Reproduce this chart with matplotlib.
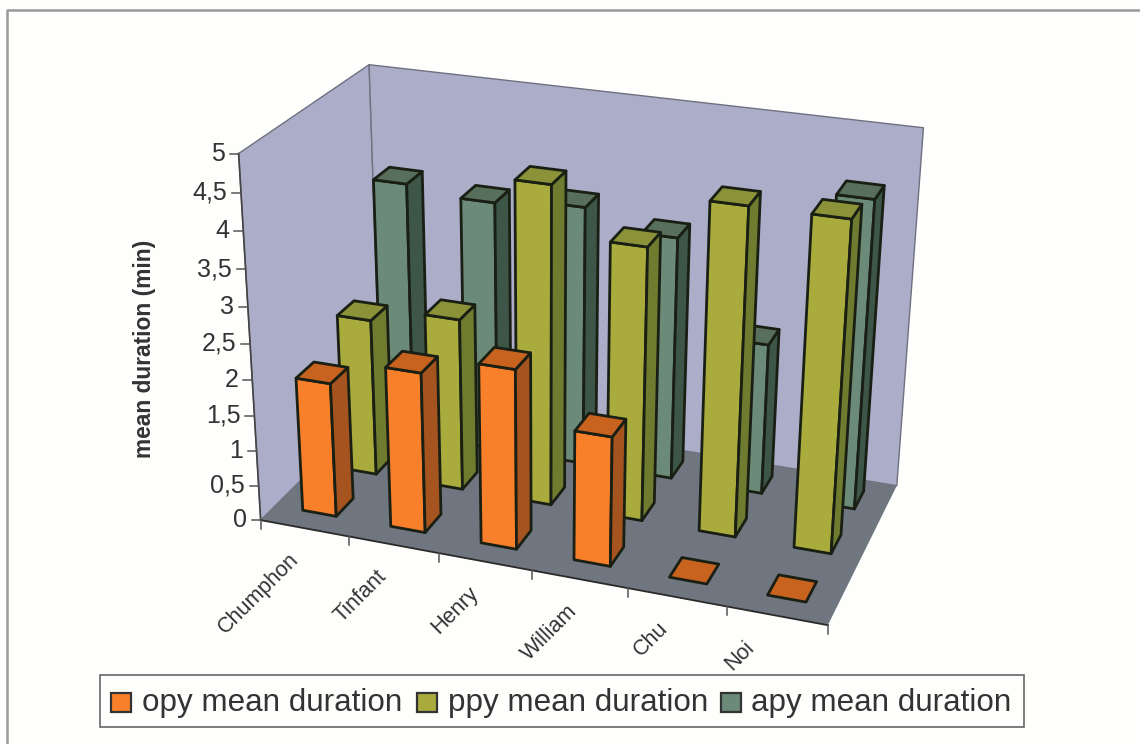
"""
plot.py
3D clustered bars (Excel style): mean duration per cyclone, three series.
The bars go through a small pinhole camera fitted to the box corners.
"""

import numpy as np
import matplotlib
matplotlib.use('Agg')
import matplotlib.pyplot as plt
from matplotlib.patches import Polygon, Rectangle

plt.rcParams['font.family'] = ['Liberation Sans', 'DejaVu Sans']

# ---- data ----
CATEGORIES = ['Chumphon', 'Tinfant', 'Henry', 'William', 'Chu', 'Noi']
SERIES_NAMES = ['opy mean duration', 'ppy mean duration', 'apy mean duration']
OPY = [1.9, 2.25, 2.5, 1.8, 0, 0]
PPY = [2.25, 2.45, 4.45, 3.8, 4.5, 4.5]
APY = [3.7, 3.6, 3.7, 3.45, 2.15, 4.3]
Y_TICKS = [0, 0.5, 1, 1.5, 2, 2.5, 3, 3.5, 4, 4.5, 5]
Y_LABELS = ['0', '0,5', '1', '1,5', '2', '2,5', '3', '3,5', '4', '4,5', '5']

# ---- colours: front, top, side ----
COLORS = [('#F9802A', '#C8621F', '#A5531F'),
          ('#A9AC3C', '#8C9238', '#6F7B2F'),
          ('#6B8A78', '#586F5C', '#3D5648')]
WALL = '#ABADC9'
FLOOR = '#70767F'
TEXT = '#333333'
EDGE = '#1A1F14'

# box corners (x, depth, z) -> where they sit in the image
BOX = [((0, 0, 0), (263, 518)), ((0, 0, 5), (237, 153)),
       ((0, 1, 5), (371, 64)), ((1, 1, 5), (923, 129)),
       ((1, 0, 0), (827, 628)), ((1, 1, 0), (898, 482)),
       ((0, 1, 0), (378, 404))]

BAR_W = 0.064        # share of the x axis
BAR_D = 0.138        # share of the depth axis
BAR_SHIFT_X = 0.001
BAR_SHIFT_D = 0.016
LABEL_NUDGE = [-13, -15, -15, -10, -17, -30]   # excel placed these by hand, more or less


def fit_camera(box):
    """DLT, 3x4 matrix with last entry 1."""
    rows, rhs = [], []
    for (x, y, z), (u, v) in box:
        rows.append([x, y, z, 1, 0, 0, 0, 0, -u * x, -u * y, -u * z])
        rows.append([0, 0, 0, 0, x, y, z, 1, -v * x, -v * y, -v * z])
        rhs += [u, v]
    p = np.linalg.lstsq(np.array(rows, float), np.array(rhs, float), rcond=None)[0]
    return np.append(p, 1).reshape(3, 4)


CAM = fit_camera(BOX)


def project(x, y, z):
    u, v, w = CAM @ np.array([x, y, z, 1.0])
    return u / w, v / w


def face(ax, pts, color, edge=EDGE, lw=2.0, zorder=2):
    ax.add_patch(Polygon([project(*p) for p in pts], closed=True, facecolor=color,
                         edgecolor=edge, linewidth=lw, joinstyle='round', zorder=zorder))


def draw_bar(ax, i, s, value):
    x0 = (i + 0.5) / len(CATEGORIES) - BAR_W / 2 + BAR_SHIFT_X
    x1 = x0 + BAR_W
    y0 = (s + 0.5) / 3 - BAR_D / 2 + BAR_SHIFT_D
    y1 = y0 + BAR_D
    front, top, side = COLORS[s]
    if value > 0:
        face(ax, [(x0, y0, 0), (x1, y0, 0), (x1, y0, value), (x0, y0, value)], front)
        face(ax, [(x1, y0, 0), (x1, y1, 0), (x1, y1, value), (x1, y0, value)], side)
    face(ax, [(x0, y0, value), (x1, y0, value), (x1, y1, value), (x0, y1, value)], top)


def main():
    fig = plt.figure(figsize=(11.4, 7.44), dpi=100, facecolor='#FEFEFC')
    ax = fig.add_axes([0, 0, 1, 1])
    ax.set_xlim(0, 1140)
    ax.set_ylim(744, 0)
    ax.axis('off')

    # chart frame, only top and left get into the scan
    ax.plot([7, 7, 1140], [744, 9.5, 9.5], color='#9A9A9A', lw=1.8, zorder=1)

    # walls and floor
    face(ax, [(0, 0, 0), (0, 0, 5), (0, 1, 5), (0, 1, 0)], WALL, edge='#6F7080', lw=1.0, zorder=1)
    face(ax, [(0, 1, 0), (0, 1, 5), (1, 1, 5), (1, 1, 0)], WALL, edge='#6F7080', lw=1.0, zorder=1)
    face(ax, [(0, 0, 0), (1, 0, 0), (1, 1, 0), (0, 1, 0)], FLOOR, edge='none', lw=0, zorder=1)

    # axis lines
    ax.plot(*zip(project(0, 0, 0), project(0, 0, 5)), color='#444444', lw=1.2, zorder=2)
    ax.plot(*zip(project(0, 0, 0), project(1, 0, 0)), color='#2A2A2A', lw=1.3, zorder=2)

    # value axis
    for v, lab in zip(Y_TICKS, Y_LABELS):
        px, py = project(0, 0, v)
        ax.plot([px - 9, px], [py, py], color='#555555', lw=1.1, zorder=2)
        ax.text(px - 14, py, lab, ha='right', va='center', fontsize=18, color=TEXT)
    ax.text(144, 349, 'mean duration (min)', rotation=90, ha='center', va='center',
            fontsize=16.4, fontweight='bold', color=TEXT)

    # category axis
    n = len(CATEGORIES)
    for i in range(n + 1):
        px, py = project(i / n, 0, 0)
        ax.plot([px, px], [py, py + 9], color='#555555', lw=1.1, zorder=2)
    for i, name in enumerate(CATEGORIES):
        px, py = project((i + 0.5) / n, 0, 0)
        ax.text(px - 3 + LABEL_NUDGE[i], py + 21, name, rotation=45, rotation_mode='anchor',
                ha='right', va='top', fontsize=15.5, color=TEXT)

    # bars, back row first
    rows = [OPY, PPY, APY]
    for s in (2, 1, 0):
        for i in range(n):
            draw_bar(ax, i, s, rows[s][i])

    # legend box
    ax.add_patch(Rectangle((100, 675), 924, 52, facecolor='#FEFEFC', edgecolor='#666666',
                           linewidth=1.2, zorder=3))
    for name, sx, tx, cols in zip(SERIES_NAMES, [111, 417, 721], [142, 448, 751], COLORS):
        ax.add_patch(Rectangle((sx, 693), 20, 19, facecolor=cols[0], edgecolor='#333333',
                               linewidth=1.6, zorder=4))
        ax.text(tx, 703, name, ha='left', va='center', fontsize=22.6, color=TEXT, zorder=4)

    fig.savefig('out.png', dpi=100, facecolor=fig.get_facecolor())


if __name__ == '__main__':
    main()
